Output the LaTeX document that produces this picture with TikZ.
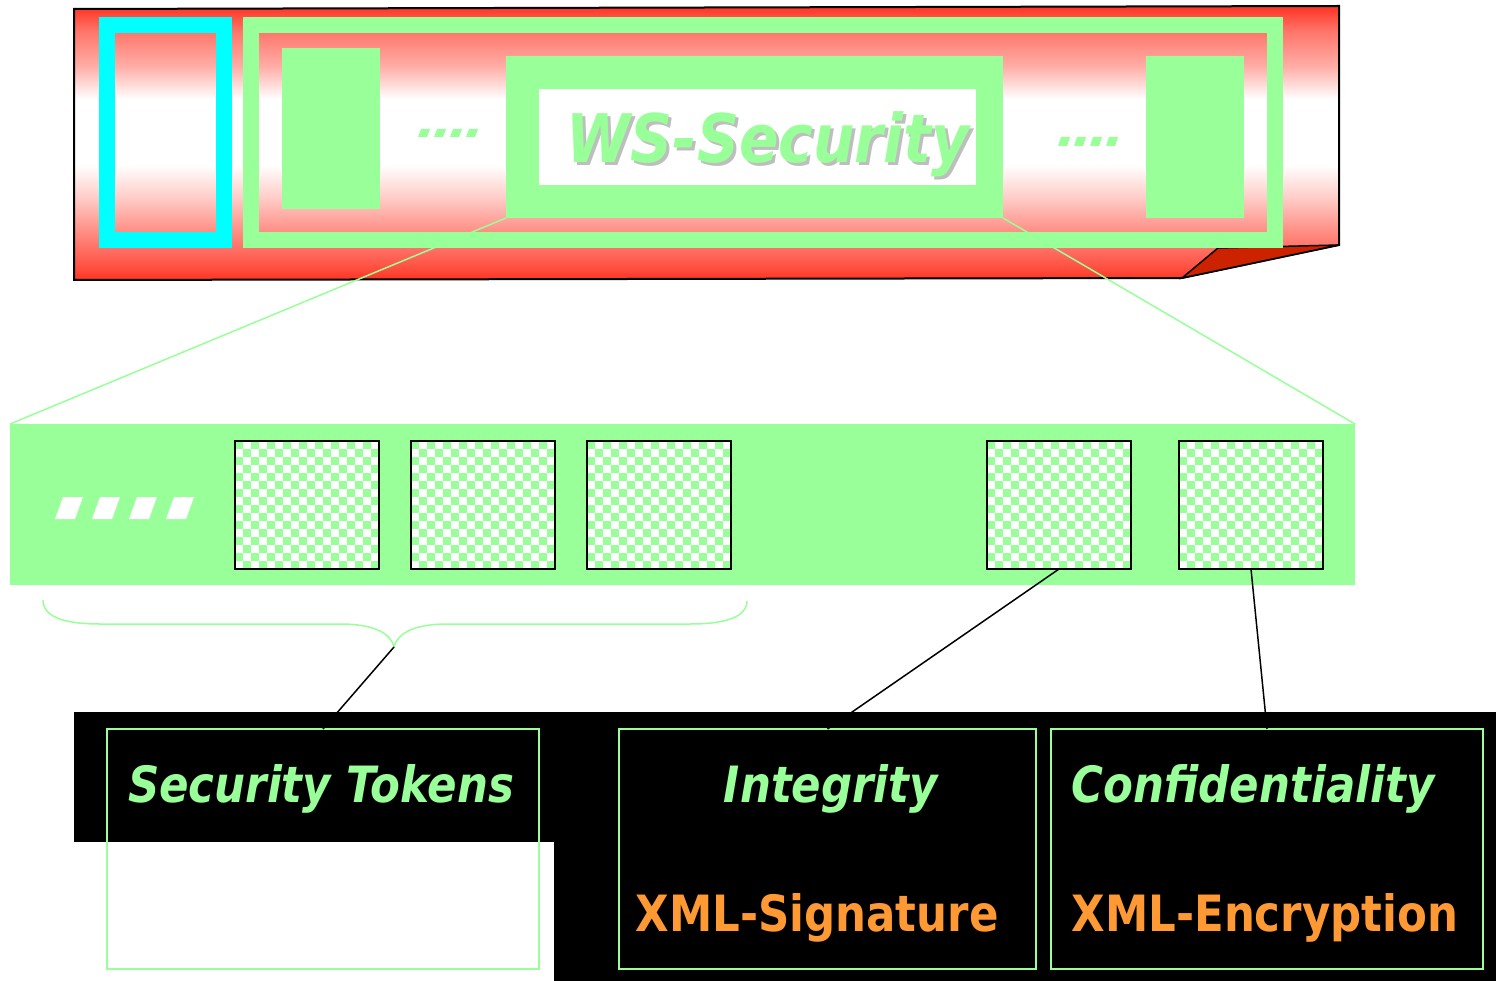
\documentclass[tikz,border=0pt]{standalone}
\usepackage{fontspec}
\newfontfamily\tah{DejaVu Sans}[FakeStretch=0.87]
\definecolor{lgreen}{RGB}{153,255,153}
\definecolor{rred}{RGB}{255,51,34}
\definecolor{dred}{RGB}{204,34,0}
\definecolor{orng}{RGB}{255,153,51}
\definecolor{shad}{RGB}{190,190,190}
\definecolor{cyn}{RGB}{0,255,255}
\pgfdeclareverticalshading{redbar}{100bp}{%
  color(0bp)=(rred); color(25bp)=(rred); color(27.5bp)=(rred!85!white); color(34bp)=(rred!55!white);
  color(40bp)=(rred!25!white); color(46bp)=(white); color(58bp)=(white);
  color(64bp)=(rred!40!white); color(70.5bp)=(rred!68!white); color(75bp)=(rred); color(100bp)=(rred)}
\newcommand\chkfill[2]{%
  \begin{scope}
    \clip (#1,#2) rectangle ++(144,128);
    \fill[white] (#1,#2) rectangle ++(144,128);
    \foreach \j in {0,...,15}{
      \foreach \i in {0,2,...,16}{
        \fill[lgreen] ({#1+(\i+mod(\j,2))*8},{#2+\j*8}) rectangle ++(8,8);
      }
    }
  \end{scope}}
\begin{document}
\begin{tikzpicture}[x=1pt,y=-1pt,
  box/.style={rectangle, inner sep=0pt, outer sep=0pt},
  chkbox/.style={box, draw=black, line width=1.5pt, minimum width=144pt, minimum height=128pt},
  gbox/.style={box, draw=lgreen, line width=1.5pt, minimum height=240pt},
  gline/.style={draw=lgreen, line width=1.5pt},
  bline/.style={draw=black, line width=1.5pt},
  gdot/.style={fill=lgreen},
  wdot/.style={fill=white},
  ttl/.style={anchor=base, text=lgreen, inner sep=0pt, font=\tah\bfseries\itshape\fontsize{50}{52}\selectfont},
  sub/.style={anchor=base, text=orng, inner sep=0pt, font=\tah\bfseries\fontsize{50}{52}\selectfont}
]
\useasboundingbox (0,0) rectangle (1496,981);

% ---- top red bar ----
\shadedraw[shading=redbar, draw=black, line width=2pt]
  (74,9) -- (1339,6) -- (1339,245) -- (1182,278) -- (74,280) -- cycle;
\filldraw[fill=dred, draw=black, line width=1.5pt] (1182,278) -- (1218,248) -- (1339,245) -- cycle;
\draw[cyn, line width=16pt] (107,25) rectangle (224,240);
\draw[lgreen, line width=16pt] (251,25) rectangle (1275,240);
\node[box, fill=lgreen, minimum width=98pt, minimum height=161pt] (bl) at (331,128.5) {};
\node[box, fill=lgreen, minimum width=98pt, minimum height=162pt] (br) at (1195,137) {};
\node[box, fill=lgreen, minimum width=497pt, minimum height=162pt] (ws) at (754.5,137) {};
\node[box, fill=white, minimum width=437pt, minimum height=96pt] (wsin) at (757.5,137) {};
\node[anchor=base, text=shad, inner sep=0pt, font=\tah\bfseries\itshape\fontsize{67}{70}\selectfont] (wsshadow) at (771,166) {WS-Security};
\node[anchor=base, text=lgreen, inner sep=0pt, font=\tah\bfseries\itshape\fontsize{67}{70}\selectfont] (wstext) at (768,163) {WS-Security};
\foreach \k in {0,1,2,3}{
  \fill[gdot] ({418+\k*16},137) -- ++(9,0) -- ++(3,-8) -- ++(-9,0) -- cycle;
  \fill[gdot] ({1058+\k*16},146) -- ++(9,0) -- ++(3,-9) -- ++(-9,0) -- cycle;
}

% ---- green band ----
\node[box, fill=lgreen, minimum width=1345pt, minimum height=161pt] (band) at (682.5,504.5) {};
\draw[gline] (ws.south west) -- (band.north west);
\draw[gline] (ws.south east) -- (band.north east);
\foreach \k in {0,1,2,3}{
  \fill[wdot] ({55+\k*37},519) -- ++(20,0) -- ++(8,-22) -- ++(-20,0) -- cycle;
}
\chkfill{235}{441}
\chkfill{411}{441}
\chkfill{587}{441}
\chkfill{987}{441}
\chkfill{1179}{441}
\node[chkbox] (c1) at (307,505) {};
\node[chkbox] (c2) at (483,505) {};
\node[chkbox] (c3) at (659,505) {};
\node[chkbox] (c4) at (1059,505) {};
\node[chkbox] (c5) at (1251,505) {};

% ---- brace ----
\coordinate (tip) at (394,647);
\draw[gline] (43,600) .. controls (43,616) and (62,624) .. (100,624) -- (340,624)
  .. controls (372,624) and (390,632) .. (tip)
  .. controls (398,632) and (416,624) .. (448,624) -- (690,624)
  .. controls (728,624) and (747,616) .. (747,601);

% ---- bottom black area ----
\fill[black] (74,712) rectangle (1496,842);
\fill[black] (554,712) rectangle (1496,981);
\node[gbox, minimum width=432pt] (tok) at (323,849) {};
\node[gbox, minimum width=417pt] (int) at (827.5,849) {};
\node[gbox, minimum width=432pt] (conf) at (1267,849) {};
\draw[bline] (tip) -- (tok.north);
\draw[bline] (c4.south) -- (int.north);
\draw[bline] (c5.south) -- (conf.north);

\node[ttl] (tokt) at (321,802) {Security Tokens};
\node[ttl] (intt) at (831,802) {Integrity};
\node[ttl] (conft) at (1253,802) {Confidentiality};
\node[sub] (sig) at (817,931) {XML-Signature};
\node[sub] (enc) at (1265,931) {XML-Encryption};
\end{tikzpicture}
\end{document}
